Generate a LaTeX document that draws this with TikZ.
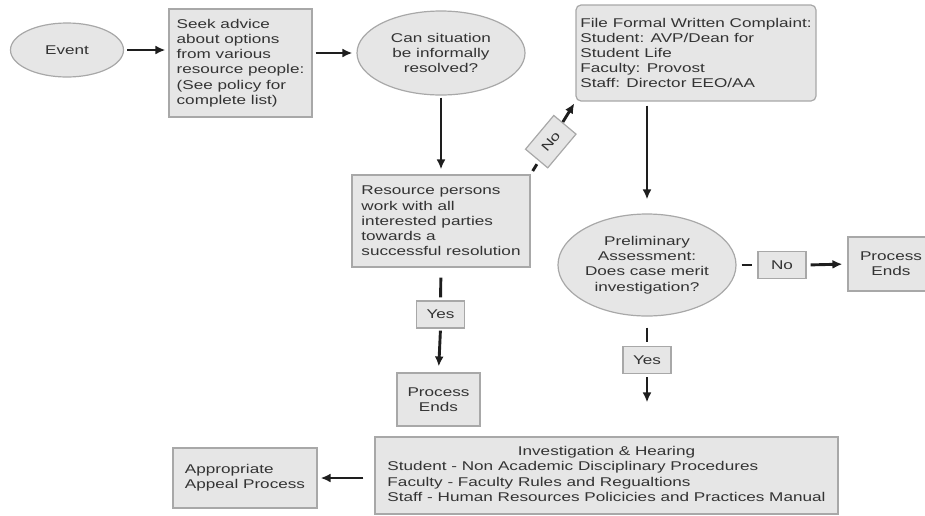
\documentclass[tikz,border=0pt]{standalone}
\usepackage{fontspec}
\setmainfont[FakeStretch=1.35]{Liberation Sans}
\usepackage{tikz}
\usetikzlibrary{calc,shapes.geometric,arrows.meta}
\definecolor{ink}{HTML}{333333}
\definecolor{edge}{HTML}{A8A8A8}
\definecolor{boxfill}{HTML}{E6E6E6}
\definecolor{arrow}{HTML}{1E1E1E}
\newcommand{\chartfont}{\fontsize{12.7}{15.2}\selectfont}
\tikzset{
  base/.style={draw=edge, fill=boxfill, line width=1.2pt, text=ink, font=\chartfont},
  box/.style={base, rectangle, inner sep=0pt, align=left},
  oval/.style={base, ellipse, inner sep=0pt, align=center},
  tag/.style={base, rectangle, inner sep=0pt, minimum width=48pt, minimum height=27pt},
  flow/.style={draw=arrow, line width=2.9pt, -{Latex[length=10pt,width=9pt]}},
  stub/.style={draw=arrow, line width=2.9pt},
}

\begin{document}
\begin{tikzpicture}[x=1pt, y=-1pt]
  \useasboundingbox (0,0) rectangle (925,515);
  \node[oval, minimum width=113pt, minimum height=54pt] (event) at (67,50) {Event};
  \node[box, minimum width=143pt, minimum height=108pt] (seek) at (240.5,63)
    {Seek advice\\about options\\from various\\resource people:\\(See policy for\\complete list)};
  \node[oval, minimum width=168pt, minimum height=84pt] (can) at (441,53)
    {Can situation\\be informally\\resolved?};
  \node[box, minimum width=178pt, minimum height=92pt] (res) at (441,221)
    {Resource persons\\work with all\\interested parties\\towards a\\successful resolution};
  \node[box, rounded corners=5pt, minimum width=240pt, minimum height=96pt] (file) at (696,53)
    {File Formal Written Complaint:\\Student: AVP/Dean for\\Student Life\\Faculty: Provost\\Staff: Director EEO/AA};
  \node[oval, minimum width=178pt, minimum height=102pt] (prelim) at (647,265)
    {Preliminary\\Assessment:\\Does case merit\\investigation?};
  \node[box, align=center, minimum width=86pt, minimum height=54pt] (ends2) at (891,264) {Process\\Ends};
  \node[box, align=center, minimum width=83pt, minimum height=53pt] (ends1) at (438.5,399.5) {Process\\Ends};
  \node[box, minimum width=463pt, minimum height=77pt] (inv) at (606.5,475.5)
    {\begin{tabular}{@{}l@{}}
      \multicolumn{1}{@{}c@{}}{Investigation \& Hearing}\\
      Student - Non Academic Disciplinary Procedures\\
      Faculty - Faculty Rules and Regualtions\\
      Staff - Human Resources Policicies and Practices Manual
    \end{tabular}};
  \node[box, minimum width=144pt, minimum height=60pt] (appeal) at (245,478)
    {Appropriate\\Appeal Process};

  \node[tag] (yes1) at (440.5,314.5) {Yes};
  \node[tag] (yes2) at (647,360) {Yes};
  \node[tag] (no2) at (782,265) {No};
  \node[tag, rotate=50, minimum width=44pt, minimum height=29pt] (no1)
    at ($(res.north east)!0.45!(file.south west)$) {No};

  \draw[flow, shorten <=3pt, shorten >=3pt] (event.east) -- (event.east -| seek.west);
  \draw[flow, shorten <=3pt, shorten >=4pt] (can.west -| seek.east) -- (can.west);
  \draw[flow, shorten <=2pt, shorten >=5pt] (can.south) -- (res.north);
  \draw[stub, shorten <=10pt, shorten >=3pt] (res.south) -- (yes1.north);
  \draw[flow, shorten <=2pt, shorten >=6pt] (yes1.south) -- (ends1.north);
  \draw[stub, shorten <=4pt] (res.north east) -- ($(res.north east)!0.14!(file.south west)$);
  \draw[flow, shorten >=2pt] ($(res.north east)!0.72!(file.south west)$) -- (file.south west);
  \draw[flow, shorten <=4pt, shorten >=14pt] (prelim.north |- file.south) -- (prelim.north);
  \draw[stub, shorten <=5pt, shorten >=5pt] (prelim.east) -- (no2.west);
  \draw[flow, shorten <=4pt, shorten >=5pt] (no2.east) -- (ends2.west);
  \draw[stub, shorten <=11pt, shorten >=4pt] (prelim.south) -- (yes2.north);
  \draw[flow, shorten <=3pt, shorten >=34pt] (yes2.south) -- (inv.north -| yes2.south);
  \draw[flow, shorten <=11pt, shorten >=3pt] (appeal.east -| inv.west) -- (appeal.east);
\end{tikzpicture}
\end{document}
